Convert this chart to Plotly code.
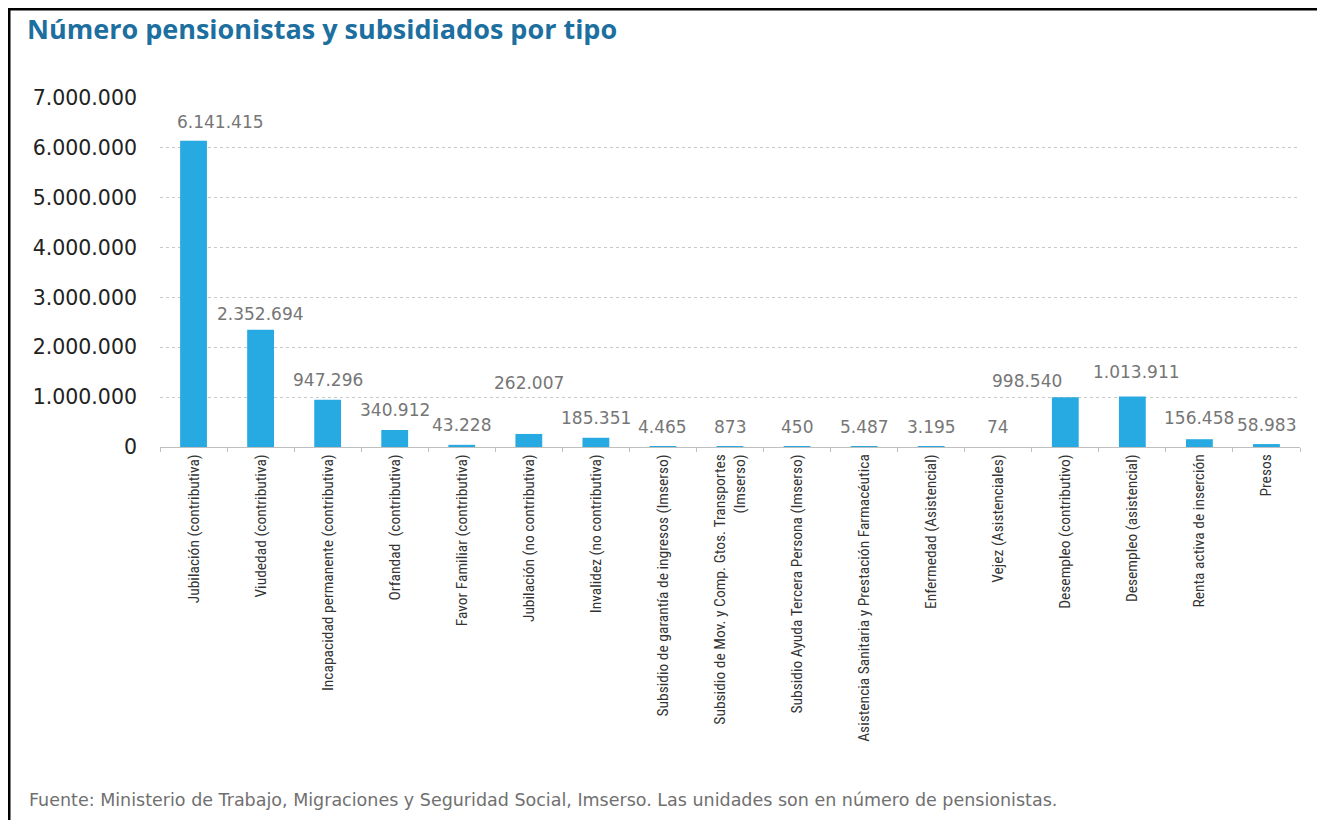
import plotly.graph_objects as go

categories = [
    "Jubilación (contributiva)",
    "Viudedad (contributiva)",
    "Incapacidad permanente (contributiva)",
    "Orfandad  (contributiva)",
    "Favor Familiar (contributiva)",
    "Jubilación (no contributiva)",
    "Invalidez (no contributiva)",
    "Subsidio de garantía de ingresos (Imserso)",
    "Subsidio de Mov. y Comp. Gtos. Transportes<br>(Imserso)",
    "Subsidio Ayuda Tercera Persona (Imserso)",
    "Asistencia Sanitaria y Prestación Farmacéutica",
    "Enfermedad (Asistencial)",
    "Vejez (Asistenciales)",
    "Desempleo (contributivo)",
    "Desempleo (asistencial)",
    "Renta activa de inserción",
    "Presos",
]
values = [6141415, 2352694, 947296, 340912, 43228, 262007, 185351, 4465, 873,
          450, 5487, 3195, 74, 998540, 1013911, 156458, 58983]
y_ticks = [0, 1000000, 2000000, 3000000, 4000000, 5000000, 6000000, 7000000]

# label placement (style): pixel offsets of each data label from its bar top
label_dx = [27, 0, 0, 0, 0, 0, 0, 0, 0, 0, 0, 0, 0, -38, 4, 0, 0]
label_dy = [19, 16, 20, 20, 20, 51, 20, 20, 20, 20, 20, 20, 20, 16, 24, 21, 19]

W, H = 1325, 820          # browser window
OFF = 8                   # page body margin
FW, FH = W - OFF, H - OFF # figure size so the page does not overflow
sx0, sx1, sy0, sy1 = 160, 1300, 98, 447   # plot area in window pixels
L = sx0 - OFF
R = FW - (sx1 - OFF)
T = sy0 - OFF
B = FH - (sy1 - OFF)
pw, ph = FW - L - R, FH - T - B

def px(x):
    return (x - sx0) / pw

def py(y):
    return (sy1 - y) / ph

fig = go.Figure(go.Bar(
    x=categories, y=values,
    marker=dict(color="#27aae1", line=dict(width=0)),
    hoverinfo="x+y",
))

label_font = dict(family="DejaVu Sans, sans-serif", size=17, color="#767676")
annotations = []
for i, (c, v) in enumerate(zip(categories, values)):
    annotations.append(dict(
        x=c, y=v, xref="x", yref="y",
        text=f"{v:,}".replace(",", "."),
        showarrow=False, xanchor="center", yanchor="middle",
        xshift=label_dx[i], yshift=label_dy[i],
        font=label_font,
    ))

annotations.append(dict(
    text="Fuente: Ministerio de Trabajo, Migraciones y Seguridad Social, Imserso. Las unidades son en número de pensionistas.",
    xref="paper", yref="paper", x=px(27), y=py(800), xanchor="left", yanchor="middle",
    showarrow=False,
    font=dict(family="DejaVu Sans, sans-serif", size=17.5, color="#707070"),
))

fig.update_layout(
    width=FW, height=FH,
    margin=dict(l=L, r=R, t=T, b=B, pad=0),
    paper_bgcolor="white", plot_bgcolor="white",
    separators=",.",
    bargap=0.6,
    showlegend=False,
    title=dict(text="<b>Número pensionistas y subsidiados por tipo</b>",
               x=(27 - OFF) / FW, xanchor="left", y=1 - (30 - OFF) / FH, yanchor="middle",
               font=dict(family="Open Sans, Lato, sans-serif", size=27, color="#1d6fa0")),
    xaxis=dict(
        range=[-0.5, len(categories) - 0.5], autorange=False,
        showgrid=False, showline=True, linecolor="#bfbfbf", linewidth=1,
        ticks="outside", tickson="boundaries", ticklen=4, tickcolor="#bfbfbf",
        tickangle=-90,
        tickfont=dict(family="Liberation Sans Narrow, Roboto Condensed, sans-serif", size=15.5, color="#333333"),
    ),
    yaxis=dict(
        range=[0, 7000000], autorange=False, tickvals=y_ticks, tickformat=",d",
        showgrid=True, gridcolor="#c8c8c8", griddash="dot", gridwidth=1,
        zeroline=False, showline=False, ticks="",
        ticklabelstandoff=22,
        tickfont=dict(family="DejaVu Sans, sans-serif", size=20.5, color="#222222"),
    ),
    annotations=annotations,
    shapes=[
        dict(type="line", xref="paper", yref="paper", x0=px(9), x1=px(9), y0=py(8), y1=py(830), line=dict(color="black", width=3)),
        dict(type="line", xref="paper", yref="paper", x0=px(8), x1=px(1323), y0=py(9), y1=py(9), line=dict(color="black", width=3)),
        dict(type="line", xref="paper", yref="paper", x0=px(1321), x1=px(1321), y0=py(8), y1=py(830), line=dict(color="black", width=3)),
    ],
)

fig.write_html("out.html")
